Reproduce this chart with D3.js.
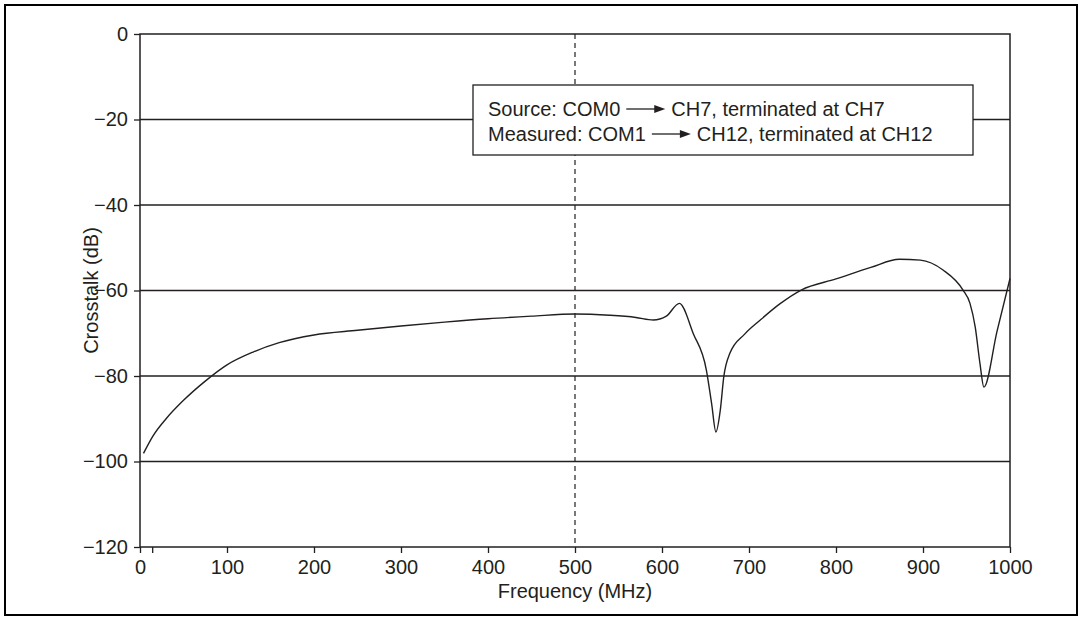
<html>
<meta charset="utf-8" />
<head>
<title>Crosstalk</title>
<script src="https://cdn.jsdelivr.net/npm/d3@7" type="text/Javascript"></script>
<style>
	body { margin: 0; background: #fff; }
	svg { display: block; }
	text { font-family: Arial, "Liberation Sans", Helvetica, sans-serif; fill: #231f20; }
</style>
</head>
<body>
<svg id="chart" width="1083" height="621"></svg>
<script>
// frequency (MHz) and crosstalk (dB)
let freq = [4, 15, 30, 50, 75, 100, 130, 160, 200, 250, 300, 350, 400, 450, 500, 540, 570, 590, 605, 620,
	636, 651, 657, 662, 667, 671, 678, 695, 713, 735, 760, 800, 840, 873, 897, 923, 946, 954, 960, 965.5, 970, 985, 1000];
let crosstalk = [-98.1, -94, -90, -85.7, -81.2, -77.4, -74.4, -72.2, -70.4, -69.3, -68.3, -67.4, -66.6, -66, -65.5, -65.8, -66.3, -66.9, -66, -63,
	-70.1, -78.6, -86.4, -93.1, -88, -80.2, -74.7, -70.2, -66.9, -63.2, -59.9, -57.3, -54.6, -52.7, -52.9, -55.2, -59.9, -63, -68.5, -77.1, -82.6, -69.6, -57.2];

let xTicks = [0, 100, 200, 300, 400, 500, 600, 700, 800, 900, 1000];
let yTicks = [0, -20, -40, -60, -80, -100, -120];
let markerFreq = 500;
let legendLines = [
	['Source: COM0', 'CH7, terminated at CH7'],
	['Measured: COM1', 'CH12, terminated at CH12']
];

let svg = d3.select('#chart');
let ink = '#231f20';
let fs = 20;

// outer frame
svg.append('rect').attr('x', 5).attr('y', 5).attr('width', 1072).attr('height', 610)
	.attr('fill', 'none').attr('stroke', '#000').attr('stroke-width', 2);

let xScale = d3.scaleLinear().domain([0, 1000]).range([140, 1010]);
let yScale = d3.scaleLinear().domain([-120, 0]).range([547, 34]);

// gridlines
svg.append('g').selectAll('line').data(yTicks.filter(d => d != -120 && d != 0)).enter().append('line')
	.attr('x1', xScale(0)).attr('x2', xScale(1000))
	.attr('y1', d => yScale(d)).attr('y2', d => yScale(d))
	.attr('stroke', ink).attr('stroke-width', 1.3);

// plot box
svg.append('rect').attr('x', xScale(0)).attr('y', yScale(0))
	.attr('width', xScale(1000) - xScale(0)).attr('height', yScale(-120) - yScale(0))
	.attr('fill', 'none').attr('stroke', ink).attr('stroke-width', 1.5);

// dashed line at 500 MHz
svg.append('line').attr('x1', xScale(markerFreq)).attr('x2', xScale(markerFreq))
	.attr('y1', yScale(0)).attr('y2', yScale(-120))
	.attr('stroke', ink).attr('stroke-width', 1.2).attr('stroke-dasharray', '5,4');

// axes
let xAxis = d3.axisBottom(xScale).tickValues(xTicks.concat([14])).tickSize(6)
	.tickFormat(d => d == 14 ? '' : d);
let yAxis = d3.axisLeft(yScale).tickValues(yTicks).tickSize(6)
	.tickFormat(d => d < 0 ? '\u2212' + Math.abs(d) : d);

let xg = svg.append('g').attr('transform', 'translate(0,' + yScale(-120) + ')').call(xAxis);
let yg = svg.append('g').attr('transform', 'translate(' + xScale(0) + ',0)').call(yAxis);
[xg, yg].forEach(g => {
	g.select('.domain').remove();
	g.selectAll('line').attr('stroke', ink).attr('stroke-width', 1.3);
	g.selectAll('text').attr('font-size', fs).style('fill', ink)
		.attr('font-family', 'Arial, "Liberation Sans", sans-serif');
});
xg.selectAll('text').attr('dy', null).attr('y', 27);
yg.selectAll('text').attr('x', -12);

// axis titles
svg.append('text').attr('x', (xScale(0) + xScale(1000)) / 2).attr('y', 598)
	.attr('text-anchor', 'middle').attr('font-size', fs).text('Frequency (MHz)');
svg.append('text').attr('transform', 'translate(98,' + yScale(-60) + ') rotate(-90)')
	.attr('text-anchor', 'middle').attr('font-size', fs).text('Crosstalk (dB)');

// curve
let points = freq.map((f, i) => [f, crosstalk[i]]);
let line = d3.line().x(d => xScale(d[0])).y(d => yScale(d[1])).curve(d3.curveMonotoneX);
svg.append('path').attr('d', line(points)).attr('fill', 'none')
	.attr('stroke', ink).attr('stroke-width', 1.4);

// legend
let lg = svg.append('g');
lg.append('rect').attr('x', 473).attr('y', 85).attr('width', 500).attr('height', 70)
	.attr('fill', '#fff').attr('stroke', ink).attr('stroke-width', 1.3);
legendLines.forEach((l, i) => {
	let y = 116 + i * 25;
	let t1 = lg.append('text').attr('x', 488).attr('y', y).attr('font-size', fs).text(l[0]);
	let w = t1.node().getComputedTextLength();
	let ax = 488 + w + 6;
	lg.append('line').attr('x1', ax).attr('x2', ax + 30).attr('y1', y - 7).attr('y2', y - 7)
		.attr('stroke', ink).attr('stroke-width', 1.3);
	lg.append('path').attr('d', 'M' + (ax + 28) + ',' + (y - 11) + 'L' + (ax + 39) + ',' + (y - 7) + 'L' + (ax + 28) + ',' + (y - 3) + 'Z')
		.attr('fill', ink);
	lg.append('text').attr('x', ax + 45).attr('y', y).attr('font-size', fs).text(l[1]);
});
</script>
</body>
</html>
